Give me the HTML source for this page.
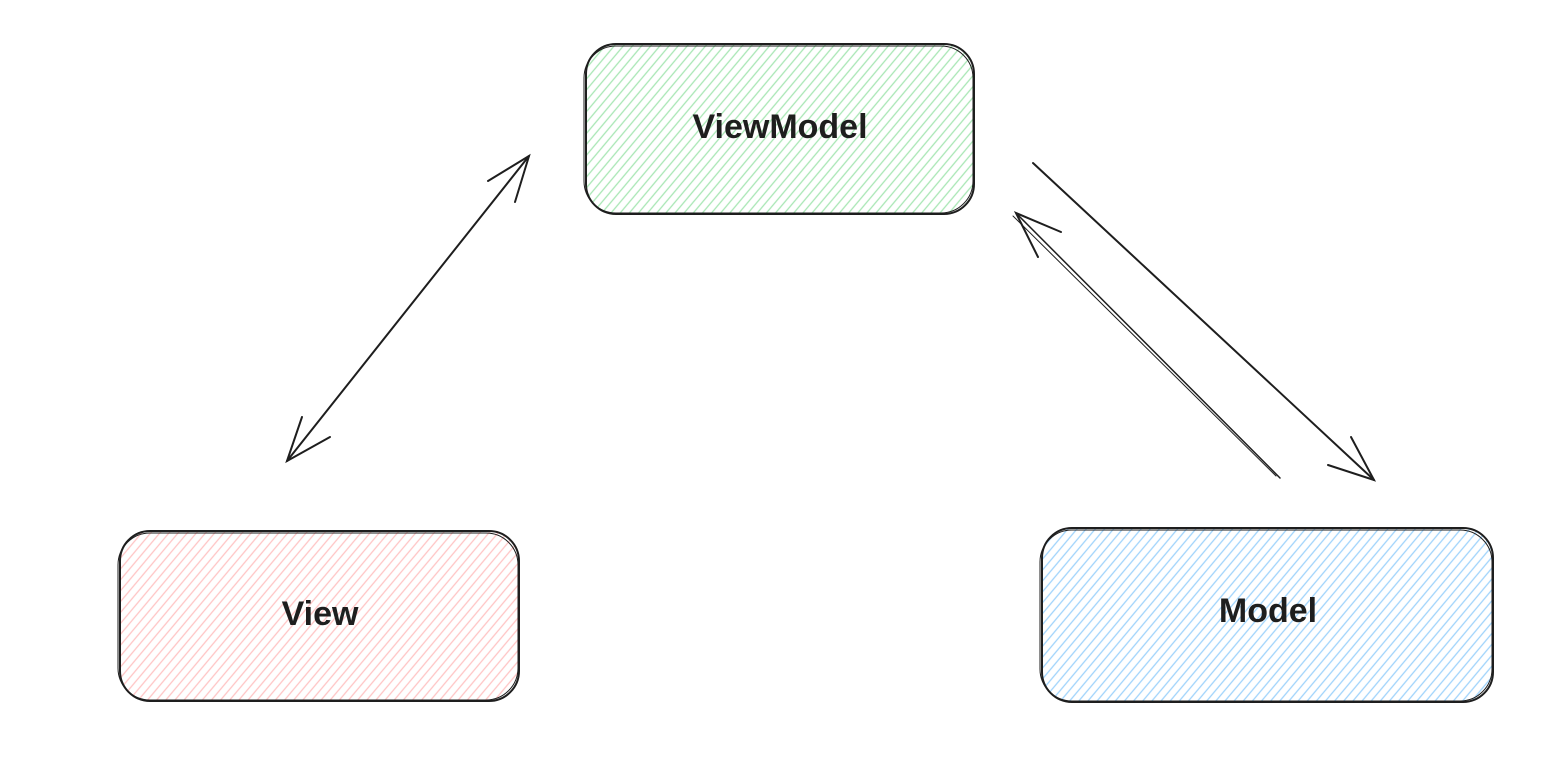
<!DOCTYPE html>
<html><head><meta charset="utf-8"><style>
html,body{margin:0;padding:0;background:#fff;}
svg{display:block}
text{font-family:"Liberation Sans",sans-serif;font-weight:bold;font-size:34px;fill:#1e1e1e;text-anchor:middle;dominant-baseline:middle}
</style></head><body>
<svg width="1560" height="774" viewBox="0 0 1560 774" xmlns="http://www.w3.org/2000/svg">
<defs>
<pattern id="hg" width="7" height="7" patternUnits="userSpaceOnUse" patternTransform="rotate(40)"><line x1="3" y1="0" x2="3" y2="7" stroke="#a8e6b4" stroke-width="1.3"/></pattern>
<pattern id="hr" width="7" height="7" patternUnits="userSpaceOnUse" patternTransform="rotate(40)"><line x1="3" y1="0" x2="3" y2="7" stroke="#ffc4c4" stroke-width="1.3"/></pattern>
<pattern id="hb" width="7" height="7" patternUnits="userSpaceOnUse" patternTransform="rotate(40)"><line x1="3" y1="0" x2="3" y2="7" stroke="#9fd3fb" stroke-width="1.3"/></pattern>
</defs>
<g stroke="#1e1e1e" stroke-width="2" fill="none" stroke-linecap="round">
<rect x="586" y="44" width="388" height="170" rx="30" fill="url(#hg)"/>
<rect x="584" y="46" width="389" height="167" rx="32" stroke-width="1"/>
<rect x="120" y="531" width="399" height="170" rx="30" fill="url(#hr)"/>
<rect x="118" y="533" width="400" height="167" rx="32" stroke-width="1"/>
<rect x="1042" y="528" width="451" height="174" rx="30" fill="url(#hb)"/>
<rect x="1040" y="530" width="452" height="171" rx="32" stroke-width="1"/>

<line x1="287" y1="461" x2="529" y2="156"/>
<path d="M488 181 L529 156 L515 202"/>
<path d="M330 437 L287 461 L302 417"/>

<line x1="1033" y1="163" x2="1374" y2="480"/>
<path d="M1328 465 L1374 480 L1351 437"/>

<line x1="1280" y1="478" x2="1016" y2="213" stroke-width="1.5"/>
<line x1="1276" y1="476" x2="1013" y2="216" stroke-width="1"/>
<path d="M1061 232 L1016 213 L1038 257"/>
</g>
<text x="780" y="129">ViewModel</text>
<text x="320" y="616">View</text>
<text x="1268" y="613">Model</text>
</svg>
</body></html>
